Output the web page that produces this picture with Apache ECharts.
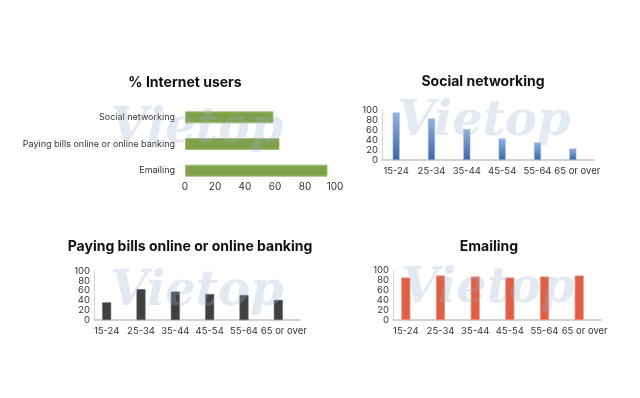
<!DOCTYPE html>
<html>
<head>
<meta charset="utf-8">
<script src="https://cdn.jsdelivr.net/npm/echarts@6/dist/echarts.min.js"></script>
<style>html,body{margin:0;padding:0;background:#fff}#c{width:640px;height:398px}</style>
</head>
<body>
<div id="c"></div>
<script>
// ---- data ----
var usageCategories = ['Social networking', 'Paying bills online or online banking', 'Emailing'];
var usageValues = [59, 63, 95];
var ageGroups = ['15-24', '25-34', '35-44', '45-54', '55-64', '65 or over'];
var socialValues = [95, 83, 62, 43, 35, 23];
var bankingValues = [36, 63, 58, 53, 51, 41];
var emailValues = [85, 89, 87, 85, 87, 89];
var pctTicks = [0, 20, 40, 60, 80, 100];
var emptyValues = [null, null, null, null, null, null];

var FONT = 'Inter';
var chart = echarts.init(document.getElementById('c'));

function titleText(text, x, y) {
  return {
    type: 'text', x: x, y: y,
    style: { text: text, font: 'bold 14px ' + FONT, fill: '#111', align: 'center', verticalAlign: 'middle' }
  };
}
function mark(x, y) {
  return {
    type: 'text', x: x, y: y, silent: true, z: 100,
    style: { text: 'Vietop', font: 'italic bold 48px "DejaVu Serif"', fill: 'rgba(150,175,205,0.28)', align: 'center', verticalAlign: 'middle' }
  };
}
var labelStyle = { color: '#333', fontSize: 9.5, fontFamily: FONT };

function colXAxis(gi, barW) {
  // last (long) label sits a little right of its bar, as in the source
  var cats = ageGroups.map(function (g, i) {
    return i === ageGroups.length - 1 ? { value: g, textStyle: { padding: [0, 0, 0, 2] } } : g;
  });
  return {
    type: 'category', gridIndex: gi, data: cats,
    axisLine: { show: true, lineStyle: { color: '#c4c4c4', width: 1.5 } },
    axisTick: { show: false },
    axisLabel: Object.assign({ margin: 6, padding: [0, barW, 0, 0], interval: 0, hideOverlap: false }, labelStyle)
  };
}
function colYAxis(gi) {
  return {
    type: 'value', gridIndex: gi, min: 0, max: 100, interval: 20,
    axisLine: { show: true, lineStyle: { color: '#d4d4d4' } },
    axisTick: { show: false },
    splitLine: { show: false },
    axisLabel: Object.assign({ margin: 4, showMinLabel: true, showMaxLabel: true, hideOverlap: false }, labelStyle)
  };
}

var option = {
  animation: false,
  backgroundColor: '#fff',
  grid: [
    { left: 185, top: 104, width: 150, height: 80, outerBoundsMode: 'none', containLabel: false },
    { left: 382, top: 110, width: 212, height: 50, outerBoundsMode: 'none', containLabel: false },
    { left: 94, top: 271, width: 206, height: 49, outerBoundsMode: 'none', containLabel: false },
    { left: 393, top: 270, width: 208, height: 50, outerBoundsMode: 'none', containLabel: false }
  ],
  xAxis: [
    {
      type: 'value', gridIndex: 0, min: 0, max: 100, interval: 20,
      axisLine: { show: false }, axisTick: { show: false }, splitLine: { show: false },
      axisLabel: Object.assign({ margin: -2, showMinLabel: true, showMaxLabel: true, hideOverlap: false }, labelStyle, { fontSize: 10 })
    },
    colXAxis(1, 7), colXAxis(2, 9), colXAxis(3, 9)
  ],
  yAxis: [
    {
      type: 'category', gridIndex: 0, data: usageCategories, inverse: true,
      axisLine: { show: false }, axisTick: { show: false },
      axisLabel: Object.assign({ margin: 10, hideOverlap: false }, labelStyle, { fontSize: 9 })
    },
    colYAxis(1), colYAxis(2), colYAxis(3)
  ],
  series: [
    {
      type: 'bar', xAxisIndex: 0, yAxisIndex: 0, data: usageValues, barWidth: 12,
      itemStyle: { color: '#7ea14a', borderColor: '#a3bf78', borderWidth: 1 }
    },
    {
      type: 'bar', xAxisIndex: 1, yAxisIndex: 1, data: socialValues, barWidth: 7, barGap: '0%',
      itemStyle: {
        color: new echarts.graphic.LinearGradient(0, 0, 0, 1, [
          { offset: 0, color: '#8fb4e0' }, { offset: 1, color: '#3d66a2' }
        ]),
        borderColor: '#9dbbe0', borderWidth: 0.5
      }
    },
    { type: 'bar', xAxisIndex: 1, yAxisIndex: 1, data: emptyValues, barWidth: 7, barGap: '0%' },
    {
      type: 'bar', xAxisIndex: 2, yAxisIndex: 2, data: bankingValues, barWidth: 9, barGap: '0%',
      itemStyle: { color: '#404040', borderColor: '#6a6a6a', borderWidth: 0.5 }
    },
    { type: 'bar', xAxisIndex: 2, yAxisIndex: 2, data: emptyValues, barWidth: 9, barGap: '0%' },
    {
      type: 'bar', xAxisIndex: 3, yAxisIndex: 3, data: emailValues, barWidth: 9, barGap: '0%',
      itemStyle: { color: '#df5e45', borderColor: '#ef8a72', borderWidth: 0.8 }
    },
    { type: 'bar', xAxisIndex: 3, yAxisIndex: 3, data: emptyValues, barWidth: 9, barGap: '0%' }
  ],
  graphic: [
    titleText('% Internet users', 185, 83),
    titleText('Social networking', 483, 82),
    titleText('Paying bills online or online banking', 190, 247),
    titleText('Emailing', 489, 247),
    mark(197, 130), mark(484, 123), mark(197, 293), mark(488, 290)
  ]
};
chart.setOption(option);
</script>
</body>
</html>
